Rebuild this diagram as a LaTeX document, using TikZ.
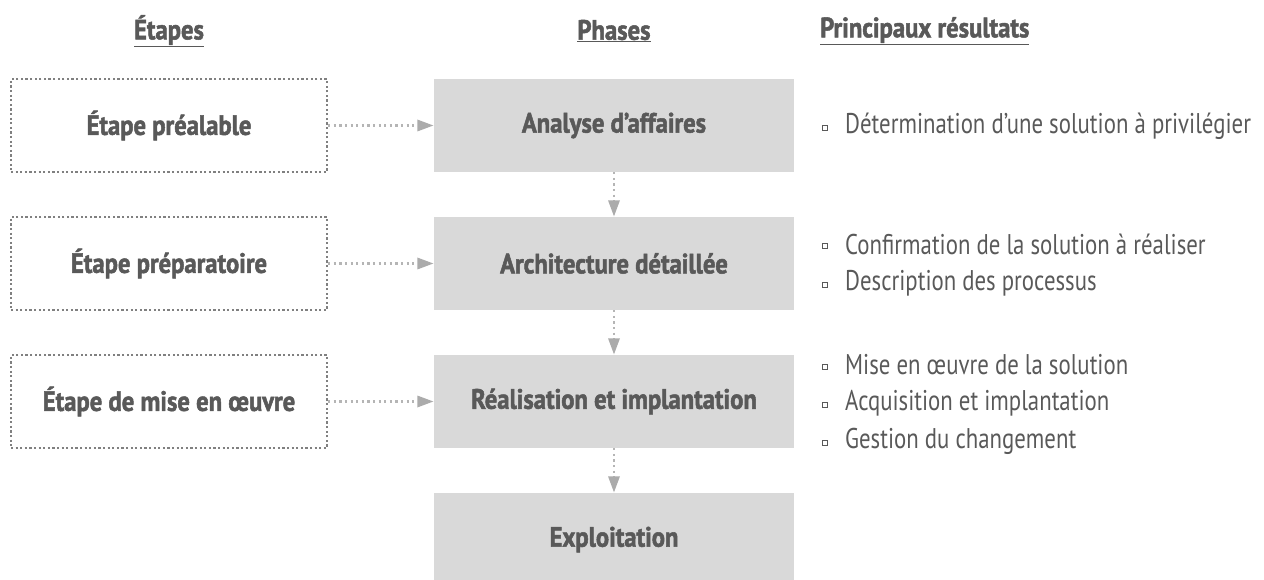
\documentclass[tikz,border=0pt]{standalone}
\usepackage{fontspec}
\setmainfont{PT Sans}[FakeStretch=0.8, BoldFeatures={FakeStretch=0.88, FakeBold=1.8}]
\usetikzlibrary{arrows.meta}
\definecolor{txt}{HTML}{595959}
\definecolor{boxgrey}{HTML}{D9D9D9}
\definecolor{dotgrey}{HTML}{808080}
\definecolor{lndgrey}{HTML}{B5B5B5}
\definecolor{arrgrey}{HTML}{ABABAB}
\tikzset{
  boldtext/.style={text=txt, font=\bfseries\fontsize{28}{30}\selectfont},
  stepbox/.style={boldtext, draw=dotgrey, line width=2.2pt, dash pattern=on 2.2pt off 2.4pt,
    minimum width=316pt, minimum height=93pt, inner sep=0pt},
  phasebox/.style={boldtext, fill=boxgrey, minimum width=360pt, minimum height=93pt, inner sep=0pt},
  head/.style={boldtext, inner sep=0pt},
  conn/.style={draw=lndgrey, line width=2.2pt, dash pattern=on 2.2pt off 3.4pt,
    -{Triangle[length=16pt,width=12pt,fill=arrgrey,line width=0pt]}, shorten >=0.5pt},
  bul/.style={draw=txt, line width=0.8pt, minimum size=5.5pt, inner sep=0pt},
  res/.style={anchor=west, text=txt, inner sep=0pt, font=\fontsize{28.5}{30}\selectfont},
}
\begin{document}
\begin{tikzpicture}[x=1pt,y=-1pt]
\useasboundingbox (0,0) rectangle (1264,580);
\node[head] (h1) at (169,31) {\underline{Étapes}};
\node[head] (h2) at (614,31) {\underline{Phases}};
\node[head, anchor=west] (h3) at (820,31) {\underline{Principaux résultats}};

\node[stepbox] (s1) at (169,125.5) {Étape préalable};
\node[stepbox] (s2) at (169,263.5) {Étape préparatoire};
\node[stepbox] (s3) at (169,401.5) {Étape de mise en œuvre};

\node[phasebox] (p1) at (614,125.5) {Analyse d’affaires};
\node[phasebox] (p2) at (614,263.5) {Architecture détaillée};
\node[phasebox] (p3) at (614,401.5) {Réalisation et implantation};
\node[phasebox] (p4) at (614,539.5) {Exploitation};

\draw[conn] (s1.east) -- (p1.west);
\draw[conn] (s2.east) -- (p2.west);
\draw[conn] (s3.east) -- (p3.west);
\draw[conn] (p1.south) -- (p2.north);
\draw[conn] (p2.south) -- (p3.north);
\draw[conn] (p3.south) -- (p4.north);

\node[bul] (b1) at (825,128) {};
\node[res] (r1) at (845,126) {Détermination d’une solution à privilégier};
\node[bul] (b2) at (825,246) {};
\node[res] (r2) at (845,244) {Confirmation de la solution à réaliser};
\node[bul] (b3) at (825,285) {};
\node[res] (r3) at (845,283) {Description des processus};
\node[bul] (b4) at (825,367) {};
\node[res] (r4) at (845,365) {Mise en œuvre de la solution};
\node[bul] (b5) at (825,405) {};
\node[res] (r5) at (845,403) {Acquisition et implantation};
\node[bul] (b6) at (825,443) {};
\node[res] (r6) at (845,441) {Gestion du changement};
\end{tikzpicture}
\end{document}
